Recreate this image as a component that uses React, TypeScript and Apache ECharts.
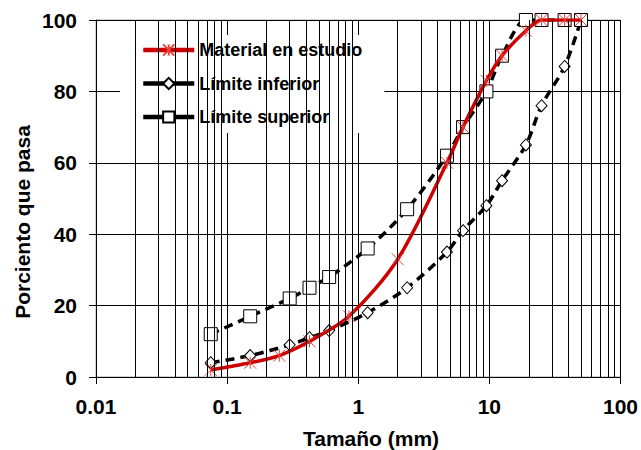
import React, { useEffect, useRef } from "react";
import * as echarts from "echarts";

// Sieve sizes (mm) and percent passing
const materialSizes = [0.075, 0.15, 0.25, 0.425, 0.85, 2, 4.75, 6.3, 9.5, 12.5, 19, 25, 37.5, 50];
const materialPassing = [2, 4, 6, 10, 17, 33, 60, 70, 83, 90, 97, 100, 100, 100];

const limitSizes = [0.075, 0.15, 0.3, 0.425, 0.6, 1.18, 2.36, 4.75, 6.3, 9.5, 12.5, 19, 25, 37.5, 50];
const lowerPassing = [4, 6, 9, 11, 13, 18, 25, 35, 41, 48, 55, 65, 76, 87, 100];
const upperPassing = [12, 17, 22, 25, 28, 36, 47, 62, 70, 80, 90, 100, 100, 100, 100];

const seriesNames = ["Material en estudio", "Límite inferior", "Límite superior"];
const xTickLabels = ["0.01", "0.1", "1", "10", "100"];
const decades = [0.01, 0.1, 1, 10];
const minorMultipliers = [2, 3, 4, 5, 6, 7, 8, 9];

const FONT = "'Liberation Sans', Arial, Helvetica, sans-serif";

export default function App() {
  const ref = useRef<HTMLDivElement>(null);

  useEffect(() => {
    if (!ref.current) return;
    const chart = echarts.init(ref.current, undefined, { renderer: "svg" });

    const minorLines: { xAxis: number }[] = [];
    decades.forEach((d) => {
      minorMultipliers.forEach((m) => {
        minorLines.push({ xAxis: parseFloat((d * m).toPrecision(3)) });
      });
    });

    const pair = (xs: number[], ys: number[]) => xs.map((x, i) => [x, ys[i]]);

    chart.setOption({
      animation: false,
      backgroundColor: "#ffffff",
      grid: {
        left: 96,
        top: 20,
        right: 20,
        bottom: 73,
        show: true,
        borderColor: "#a6a6a6",
        borderWidth: 1,
      },
      legend: {
        data: [
          { name: seriesNames[0], lineStyle: { width: 4.5, type: "solid" } },
          { name: seriesNames[1], lineStyle: { width: 4.5, type: "solid" } },
          { name: seriesNames[2], lineStyle: { width: 4.5, type: "solid" } },
        ],
        orient: "vertical",
        left: 120,
        top: 35,
        backgroundColor: "#ffffff",
        padding: [6, 22, 7, 21],
        itemWidth: 51,
        itemHeight: 14,
        itemGap: 15.5,
        selectedMode: false,
        textStyle: {
          fontFamily: FONT,
          fontWeight: "bold",
          fontSize: 18,
          lineHeight: 18,
          color: "#000",
        },
      },
      xAxis: {
        type: "log",
        logBase: 10,
        min: 0.01,
        max: 100,
        axisLine: { show: true, lineStyle: { color: "#000", width: 1 } },
        axisTick: { show: true, length: 7, lineStyle: { color: "#000" } },
        splitLine: { show: true, lineStyle: { color: "#000", width: 1 } },
        axisLabel: {
          margin: 19,
          fontFamily: FONT,
          fontWeight: "bold",
          fontSize: 21,
          color: "#000",
          formatter: (v: number) => {
            const idx = Math.round(Math.log10(v)) + 2;
            return xTickLabels[idx] ?? String(v);
          },
        },
      },
      yAxis: {
        type: "value",
        min: 0,
        max: 100,
        interval: 20,
        axisLine: { show: true, lineStyle: { color: "#000", width: 1 } },
        axisTick: { show: true, length: 7, lineStyle: { color: "#000" } },
        splitLine: { show: true, lineStyle: { color: "#000", width: 1 } },
        axisLabel: {
          margin: 19,
          fontFamily: FONT,
          fontWeight: "bold",
          fontSize: 21,
          color: "#000",
        },
      },
      graphic: [
        {
          type: "text",
          x: 22,
          y: 222,
          rotation: Math.PI / 2,
          style: {
            text: "Porciento que pasa",
            font: `bold 21px ${FONT}`,
            fill: "#000",
            textAlign: "center",
            textVerticalAlign: "middle",
          },
        },
        {
          type: "text",
          x: 371,
          y: 438,
          style: {
            text: "Tamaño (mm)",
            font: `bold 21px ${FONT}`,
            fill: "#000",
            textAlign: "center",
            textVerticalAlign: "middle",
          },
        },
      ],
      series: [
        {
          name: "_grid",
          type: "line",
          data: [],
          z: 1,
          silent: true,
          markLine: {
            silent: true,
            symbol: ["none", "none"],
            label: { show: false },
            lineStyle: { color: "#000", width: 1, type: "solid" },
            data: minorLines,
          },
        },
        {
          name: seriesNames[1],
          type: "line",
          z: 3,
          smooth: 0.3,
          data: pair(limitSizes, lowerPassing),
          symbol: "diamond",
          symbolSize: [11, 12],
          itemStyle: { color: "#ffffff", borderColor: "#000", borderWidth: 1 },
          lineStyle: { color: "#000", width: 3.5, type: [9, 6] },
        },
        {
          name: seriesNames[2],
          type: "line",
          z: 3,
          smooth: 0.3,
          data: pair(limitSizes, upperPassing),
          symbol: "rect",
          symbolSize: 13,
          itemStyle: { color: "#ffffff", borderColor: "#000", borderWidth: 1 },
          lineStyle: { color: "#000", width: 3.5, type: [9, 6] },
        },
        {
          name: seriesNames[0],
          type: "line",
          z: 4,
          smooth: 0.3,
          data: pair(materialSizes, materialPassing),
          symbol: "path://M0,0L10,10M10,0L0,10M5,0L5,10",
          symbolSize: 12,
          itemStyle: { color: "rgba(0,0,0,0)", borderColor: "#e8403c", borderWidth: 1 },
          lineStyle: { color: "#cc0000", width: 3.5, type: "solid" },
        },
      ],
    });

    return () => chart.dispose();
  }, []);

  return (
    <div
      ref={ref}
      style={{ position: "fixed", left: 0, top: 0, width: 641, height: 450 }}
    />
  );
}
